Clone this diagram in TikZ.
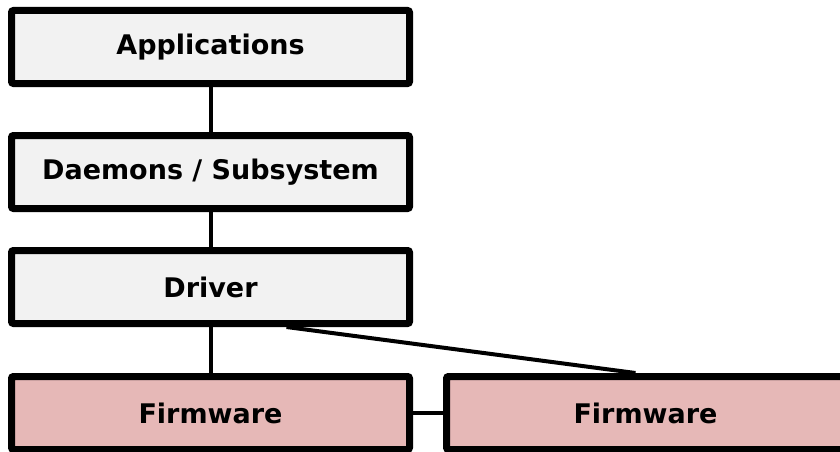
\documentclass[tikz,border=0pt]{standalone}
\usepackage{fontspec}
\setmainfont{DejaVu Sans}
\usetikzlibrary{backgrounds}
\definecolor{boxgray}{HTML}{F2F2F2}
\definecolor{boxpink}{HTML}{E6B8B7}
\tikzset{
  layerbox/.style={draw=black, line width=7pt, rounded corners=2pt, minimum width=398pt, minimum height=73pt, inner sep=0pt, font=\fontsize{27}{32}\selectfont\bfseries},
  graybox/.style={layerbox, fill=boxgray},
  pinkbox/.style={layerbox, fill=boxpink},
  link/.style={draw=black, line width=4pt}
}
\begin{document}
\begin{tikzpicture}[x=1pt,y=1pt]
\clip (0,0) rectangle (840,-452);
\node[graybox] (app) at (210.5,-47) {Applications};
\node[graybox] (dae) at (210.5,-172) {Daemons / Subsystem};
\node[graybox] (drv) at (210.5,-287) {Driver};
\node[pinkbox] (fw1) at (210.5,-413) {Firmware};
\node[pinkbox] (fw2) at (645.5,-413) {Firmware};
\begin{scope}[on background layer]
\draw[link] (app.south) -- (dae.north);
\draw[link] (dae.south) -- (drv.north);
\draw[link] (drv.south) -- (fw1.north);
\draw[link] ([xshift=76pt]drv.south) -- ([xshift=-10pt]fw2.north);
\draw[link] (fw1.east) -- (fw2.west);
\end{scope}
\end{tikzpicture}
\end{document}
